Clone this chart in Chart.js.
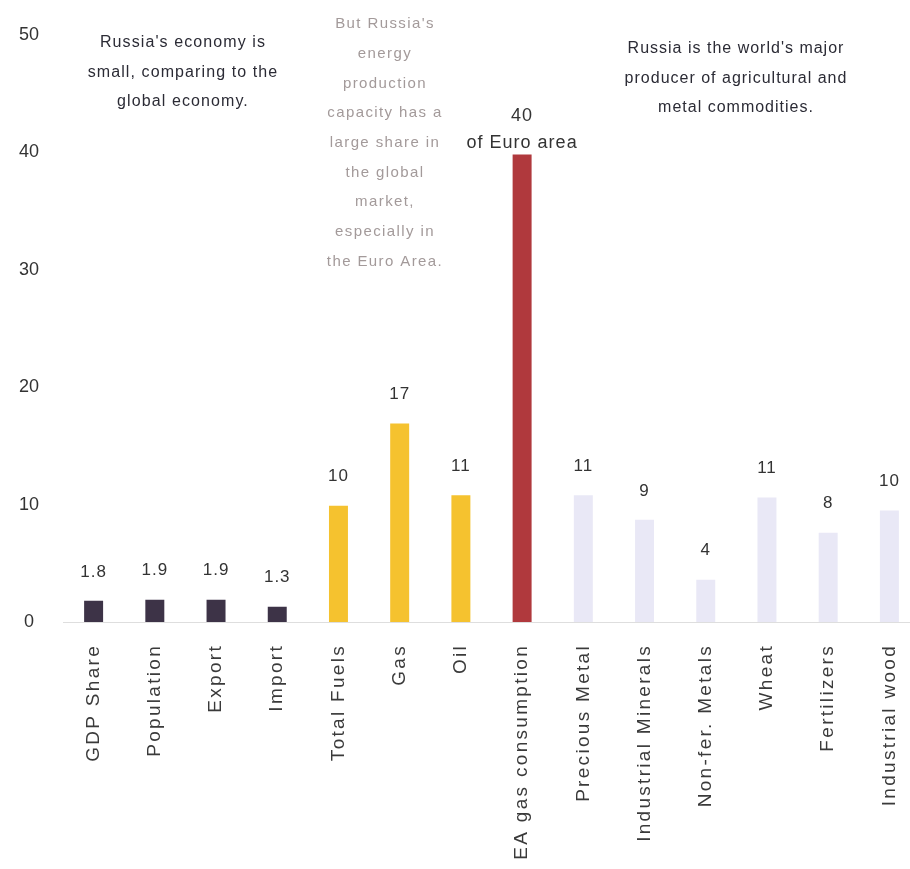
<!DOCTYPE html>
<html>
<head>
<meta charset="utf-8">
<script src="https://cdn.jsdelivr.net/npm/chart.js@4"></script>
<style>
    html, body { margin: 0; padding: 0; background: #fff; }
    #wrap { width: 910px; height: 869px; overflow: hidden; position: relative; }
    canvas { display: block; }
</style>
</head>
<body>
<div id="wrap"><canvas id="russiaChart" width="920" height="869"></canvas></div>
<script>
const categories = ['GDP Share', 'Population', 'Export', 'Import', 'Total Fuels', 'Gas', 'Oil',
    'EA gas consumption', 'Precious Metal', 'Industrial Minerals', 'Non-fer. Metals', 'Wheat', 'Fertilizers', 'Industrial wood'];
const shares = [1.8, 1.9, 1.9, 1.3, 9.9, 16.9, 10.8, 39.8, 10.8, 8.7, 3.6, 10.6, 7.6, 9.5];
const valueLabels = ['1.8', '1.9', '1.9', '1.3', '10', '17', '11', '40\nof Euro area', '11', '9', '4', '11', '8', '10'];
const groups = ['economy', 'economy', 'economy', 'economy', 'energy', 'energy', 'energy',
    'euro', 'commodity', 'commodity', 'commodity', 'commodity', 'commodity', 'commodity'];
const yTicks = [0, 10, 20, 30, 40, 50];

const groupColors = { economy: '#3d3347', energy: '#f5c22f', euro: '#b0393d', commodity: '#e9e8f6' };
const FONT = "'Liberation Sans', Arial, sans-serif";

const notes = [
    { x: 183, y: 43, lh: 29.5, size: 16, spacing: '1.1px', color: '#2b2b35',
      lines: ["Russia's economy is", 'small, comparing to the', 'global economy.'] },
    { x: 385, y: 24, lh: 29.7, size: 15, spacing: '1.4px', color: '#a39a9a',
      lines: ["But Russia's", 'energy', 'production', 'capacity has a', 'large share in', 'the global', 'market,', 'especially in', 'the Euro Area.'] },
    { x: 736, y: 49, lh: 29.5, size: 16, spacing: '1px', color: '#2b2b35',
      lines: ["Russia is the world's major", 'producer of agricultural and', 'metal commodities.'] }
];

// labels, category names and notes drawn by hand (letter spacing)
const textPlugin = {
    id: 'textPlugin',
    afterDatasetsDraw(chart) {
        const ctx = chart.ctx;
        const meta = chart.getDatasetMeta(0);
        const xScale = chart.scales.x;

        ctx.save();
        ctx.fillStyle = '#333';
        ctx.textAlign = 'center';
        ctx.textBaseline = 'middle';
        ctx.letterSpacing = '1px';
        meta.data.forEach((bar, i) => {
            const parts = valueLabels[i].split('\n');
            if (parts.length > 1) {
                ctx.font = '18px ' + FONT;
                ctx.fillText(parts[1], bar.x, bar.y - 12);
                ctx.fillText(parts[0], bar.x, bar.y - 39);
            } else {
                ctx.font = '17px ' + FONT;
                ctx.fillText(parts[0], bar.x, bar.y - 29);
            }
        });

        // rotated category names
        ctx.font = '19px ' + FONT;
        ctx.fillStyle = '#3a3a3a';
        ctx.letterSpacing = '2.3px';
        ctx.textAlign = 'right';
        categories.forEach((name, i) => {
            ctx.save();
            ctx.translate(xScale.getPixelForValue(i), 644);
            ctx.rotate(-Math.PI / 2);
            ctx.fillText(name, 0, 0);
            ctx.restore();
        });

        // annotations
        ctx.textAlign = 'center';
        notes.forEach(n => {
            ctx.font = n.size + 'px ' + FONT;
            ctx.fillStyle = n.color;
            ctx.letterSpacing = n.spacing;
            n.lines.forEach((line, k) => ctx.fillText(line, n.x, n.y + k * n.lh));
        });
        ctx.restore();
    }
};

new Chart(document.getElementById('russiaChart'), {
    type: 'bar',
    data: {
        labels: categories,
        datasets: [{
            data: shares,
            backgroundColor: groups.map(g => groupColors[g]),
            borderWidth: 0,
            barPercentage: 0.31,
            categoryPercentage: 1
        }]
    },
    options: {
        responsive: false,
        devicePixelRatio: 1,
        animation: false,
        layout: { padding: { top: 33, right: 0, bottom: 247, left: 0 } },
        plugins: {
            legend: { display: false },
            tooltip: { enabled: false }
        },
        scales: {
            x: {
                grid: { display: false, drawTicks: false },
                border: { display: true, color: '#dedede' },
                ticks: { display: false },
                afterFit: scale => { scale.height = 0; }
            },
            y: {
                min: 0,
                max: 50,
                afterBuildTicks: scale => { scale.ticks = yTicks.map(v => ({ value: v })); },
                grid: { display: false, drawTicks: false },
                border: { display: false },
                ticks: {
                    color: '#333',
                    font: { family: FONT, size: 18 },
                    padding: 24,
                    crossAlign: 'center'
                },
                afterFit: scale => { scale.width = 63; }
            }
        }
    },
    plugins: [textPlugin]
});
</script>
</body>
</html>
